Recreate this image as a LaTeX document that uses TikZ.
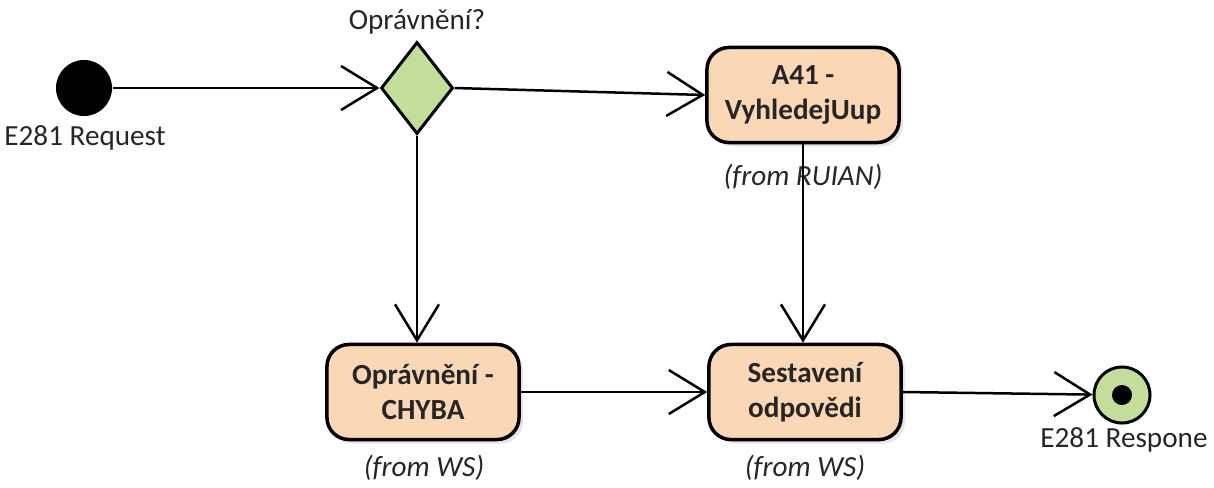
\documentclass[tikz,border=0pt]{standalone}
\usepackage{fontspec}
\setmainfont{Carlito}
\usepackage{tikz}
\usetikzlibrary{arrows.meta,shapes.geometric,shadows}

\definecolor{actfill}{HTML}{FAD8B6}
\definecolor{decfill}{HTML}{C4DD9A}

\tikzset{
  every node/.style={font=\fontsize{8.3}{10}\selectfont, text=black!85},
  act/.style={draw, rounded corners=0.22cm, fill=actfill, minimum width=1.92cm,
    minimum height=0.95cm, align=center, line width=0.35mm,
    font=\fontsize{8.3}{10}\selectfont\bfseries,
    drop shadow={opacity=0.2, shadow xshift=0.04cm, shadow yshift=-0.04cm}},
  dec/.style={diamond, draw, fill=decfill, minimum width=0.72cm,
    minimum height=0.92cm, inner sep=0pt, line width=0.3mm},
  start/.style={circle, fill=black, minimum size=0.56cm, inner sep=0pt},
  final/.style={circle, draw, fill=decfill, minimum size=0.56cm, inner sep=0pt,
    line width=0.3mm,
    path picture={\fill[black] (path picture bounding box.center) circle (0.1cm);}},
  lbl/.style={font=\fontsize{8.3}{10}\selectfont\itshape},
  flow/.style={draw, -{Straight Barb[length=0.36cm,width=0.44cm]}},
}

\begin{document}
\begin{tikzpicture}[x=0.01cm, y=-0.01cm, line width=0.25mm]
    \useasboundingbox (0,0) rectangle (1214,487);

    \node[start](init) at (84,88) {};
    \node(initlbl) at (85,138) {E281 Request};
    \node[dec](auth) at (417,88) {};
    \node(authlbl) at (417,22) {Oprávnění?};

    \node[act](a41) at (803,95) {A41 -\\VyhledejUup};
    \node[lbl](a41from) at (803,177) {(from RUIAN)};
    \node[act](err) at (423,392) {Oprávnění -\\CHYBA};
    \node[lbl](errfrom) at (424,468) {(from WS)};
    \node[act](resp) at (805,392) {Sestavení\\odpovědi};
    \node[lbl](respfrom) at (805,468) {(from WS)};

    \node[final](fin) at (1122,395) {};
    \node(finlbl) at (1124,440) {E281 Respone};

    \path (init) edge[flow] (auth.west)
          (auth.east) edge[flow] (a41.west)
          (auth.south) edge[flow] (auth.south |- err.north)
          (a41.south) edge[flow] (a41.south |- resp.north)
          (err.east) edge[flow] (resp.west)
          (resp.east) edge[flow] (fin);
  \end{tikzpicture}
\end{document}
